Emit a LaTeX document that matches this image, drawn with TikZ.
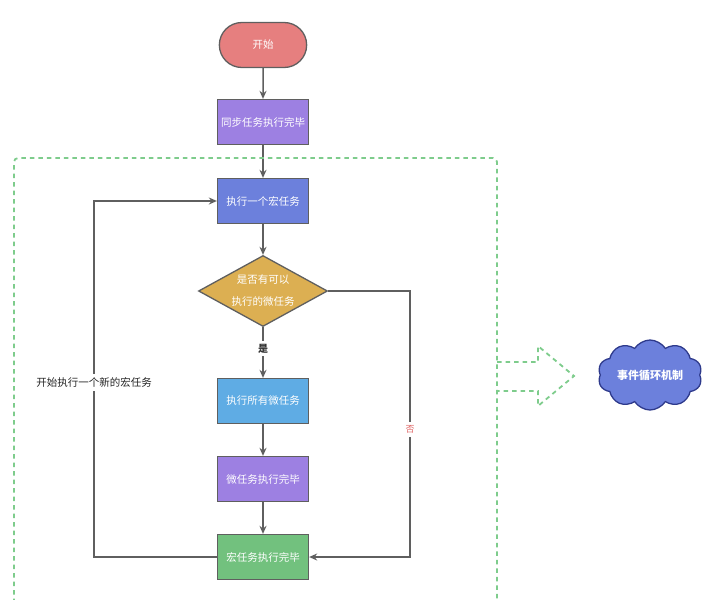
\documentclass[tikz,border=0pt]{standalone}
\usepackage{fontspec}
\setmainfont{Noto Sans CJK SC}
\usetikzlibrary{shapes,arrows,arrows.meta,shapes.geometric,shapes.symbols,calc,positioning}
\definecolor{linegray}{HTML}{5F5F5F}
\definecolor{startred}{HTML}{E67F7F}
\definecolor{syncpurple}{HTML}{9D80E2}
\definecolor{macroblue}{HTML}{6C80DC}
\definecolor{condgold}{HTML}{DCAF52}
\definecolor{microblue}{HTML}{5FACE4}
\definecolor{donegreen}{HTML}{72C17E}
\definecolor{loopgreen}{HTML}{7ECC8C}
\definecolor{nored}{HTML}{E06666}
\definecolor{cloudedge}{HTML}{2E3A8C}
\tikzstyle{arrow} = [line width=1.5pt, draw=linegray, -{Stealth[length=8pt,width=7pt]}]
\tikzstyle{box} = [rectangle, draw=linegray, line width=1.3pt, minimum width=91pt, minimum height=45pt, text=white, font=\fontsize{10.5}{12}\selectfont]

\begin{document}
\begin{tikzpicture}[x=1pt,y=-1pt]
\tikzset{loopline/.style={draw=loopgreen, line width=1.8pt, dash pattern=on 4.5pt off 4pt}}
\useasboundingbox (0,0) rectangle (722,599);

\node[box, rounded rectangle, fill=startred, minimum width=94pt] (start) at (263,45) {开始};
\node[box, fill=syncpurple] (sync) at (263,122) {同步任务执行完毕};
\node[box, fill=macroblue] (macro) at (263,201) {执行一个宏任务};
\node[box, diamond, aspect=1.8, fill=condgold, minimum width=129pt, minimum height=71pt, inner sep=0pt, align=center, font=\fontsize{10.5}{22}\selectfont] (cond) at (263,291) {是否有可以\\执行的微任务};
\node[box, fill=microblue] (micro) at (263,401) {执行所有微任务};
\node[box, fill=syncpurple] (microdone) at (263,479) {微任务执行完毕};
\node[box, fill=donegreen] (macrodone) at (263,557) {宏任务执行完毕};

\draw[arrow] (start) -- (sync);
\draw[arrow] (sync) -- (macro);
\draw[arrow] (macro) -- (cond);
\draw[arrow] (cond) -- node[pos=0.42, fill=white, font=\fontsize{10}{11}\selectfont\bfseries, text=black!80] (yes) {是} (micro);
\draw[arrow] (micro) -- (microdone);
\draw[arrow] (microdone) -- (macrodone);

% no branch
\coordinate (noturn) at (410,291);
\draw[arrow] (cond.east) -- (noturn) |- node[pos=0.26, fill=white, text=nored, font=\fontsize{9}{10}\selectfont] (no) {否} (macrodone.east);

% loop back
\coordinate (loopturn) at (94,557);
\draw[arrow] (macrodone.west) -- (loopturn) |- node[pos=0.245, fill=white, text=black!85, font=\fontsize{10.5}{12}\selectfont] (again) {开始执行一个新的宏任务} (macro.west);

% event loop frame
\draw[loopline, rounded corners=4pt] (14,620) -- (14,158) -- (497,158) -- (497,620);
\draw[loopline, line join=miter] (497,362) -- (538,362) -- (538,346) -- (574,376) -- (538,406) -- (538,391) -- (497,391);

\node[cloud, cloud puffs=10, cloud puff arc=115, aspect=1.8, draw=cloudedge, line width=1.3pt, fill=macroblue, minimum width=104pt, minimum height=70pt, inner sep=0pt, text=white, font=\fontsize{11}{12}\selectfont\bfseries] (eventloop) at (650,375) {事件循环机制};

\end{tikzpicture}
\end{document}
